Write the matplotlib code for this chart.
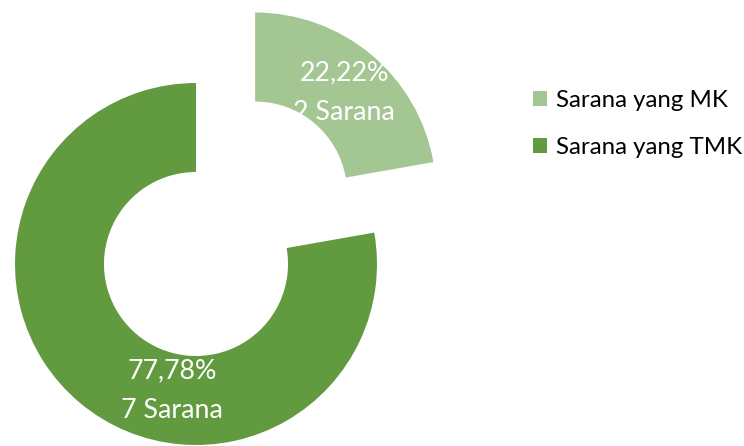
import matplotlib
matplotlib.use("Agg")
import matplotlib.pyplot as plt
from matplotlib.patches import Patch

categories = ["Sarana yang MK", "Sarana yang TMK"]
values = [2, 7]
percent_labels = ["22,22%", "77,78%"]
count_labels = ["2 Sarana", "7 Sarana"]
colors = ["#A4C692", "#629B3F"]

plt.rcParams['font.family'] = ['Lato', 'DejaVu Sans']

W, H = 744, 446
fig = plt.figure(figsize=(W/100, H/100), dpi=100)
ax = fig.add_axes([0, 0, 1, 1])

cx, cy = 196, H - 264
R = 181
wedges, _ = ax.pie(values, colors=colors, startangle=90, counterclock=False,
                   radius=R, center=(cx, cy), explode=[92, 0],
                   wedgeprops=dict(width=89, linewidth=0), frame=True)
ax.set_xlim(0, W)
ax.set_ylim(0, H)
ax.set_aspect('equal')
ax.axis('off')

label_pos = [(344, H - 93), (172, H - 391)]
for (x, y), p, c in zip(label_pos, percent_labels, count_labels):
    ax.text(x, y, p + "\n" + c, color="white", fontsize=19.3, ha="center",
            va="center", linespacing=1.72)

handles = [Patch(facecolor=c, edgecolor='none') for c in colors]
fig.legend(handles, categories, loc="upper left",
           bbox_to_anchor=(511/W, 1 - 68/H), frameon=False, fontsize=17.3,
           handlelength=0.58, handleheight=0.58, handletextpad=0.38,
           labelspacing=1.08)

fig.savefig("out.png", dpi=100)
